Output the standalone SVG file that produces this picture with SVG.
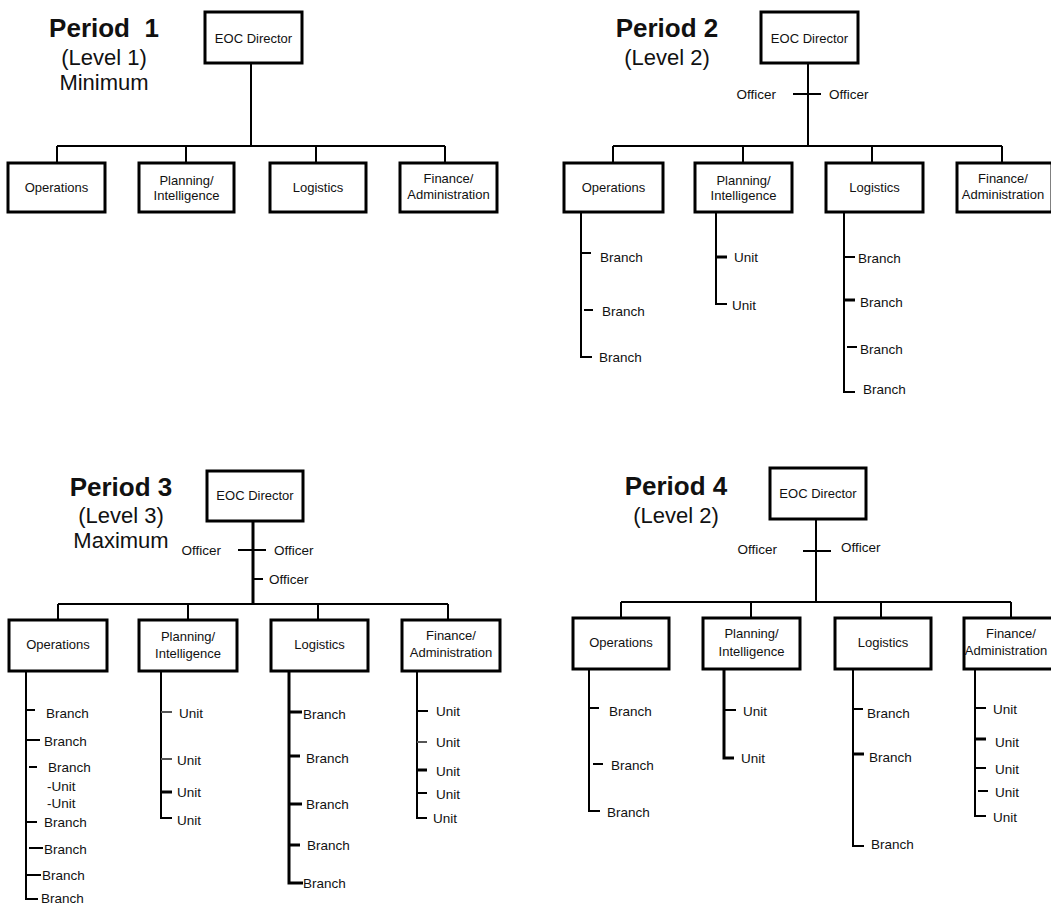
<svg xmlns="http://www.w3.org/2000/svg" width="1051" height="905" viewBox="0 0 1051 905">
<style>
.box{fill:#fff;stroke:#000;stroke-width:3}
.ln{stroke:#000;stroke-width:2;fill:none}
.thk{stroke-width:3}
.gr{stroke:#555}
text{font-family:"Liberation Sans",Arial,sans-serif;fill:#111}
.bt{font-size:13px;text-anchor:middle}
.lb{font-size:13.5px}
.le{font-size:13.5px;text-anchor:end}
.tt{font-size:26px;font-weight:bold;text-anchor:middle}
.st{font-size:22px;text-anchor:middle}
</style>
<rect width="1051" height="905" fill="#fff"/>

<g id="titles">
<text class="tt" x="104" y="37" xml:space="preserve">Period  1</text>
<text class="st" x="104" y="65">(Level 1)</text>
<text class="st" x="104" y="90">Minimum</text>
<text class="tt" x="667" y="37">Period 2</text>
<text class="st" x="667" y="65">(Level 2)</text>
<text class="tt" x="121" y="496">Period 3</text>
<text class="st" x="121" y="523">(Level 3)</text>
<text class="st" x="121" y="548">Maximum</text>
<text class="tt" x="676" y="495">Period 4</text>
<text class="st" x="676" y="523">(Level 2)</text>
</g>

<g id="connectors">
<!-- Period 1 -->
<path class="ln" d="M251 63V146M57 146H445M57 146V163M186 146V163M316 146V163M445 146V163"/>
<!-- Period 2 -->
<path class="ln" d="M808 63V146M793 94H821M613 146H1002M613 146V163M743 146V163M872 146V163M1002 146V163"/>
<path class="ln" d="M581 212V357H592M581 253H591M584 310H593"/>
<path class="ln" d="M716 212V304H727"/>
<path class="ln thk" d="M716 257H727"/>
<path class="ln" d="M844 212V392H855M844 257H855M847 347H857"/>
<path class="ln thk" d="M844 300H855"/>
<!-- Period 3 -->
<path class="ln thk" d="M253 521V604"/>
<path class="ln" d="M238 550H266M253 579H263M58 604H448M58 604V620M188 604V620M318 604V620M448 604V620"/>
<path class="ln" d="M26 671V899H38M26 710H35M26 740H40M29 767H37M26 822H37M29 848H43M26 875H41"/>
<path class="ln" d="M161 671V818H172"/>
<path class="ln gr" d="M161 712H172M161 759H172"/>
<path class="ln thk" d="M161 792H172"/>
<path class="ln thk" d="M289 668V883H303M289 712H302M289 756H300M289 804H302M289 845H300"/>
<path class="ln" d="M417 665V818H427M417 711H428M417 793H427"/>
<path class="ln gr" d="M417 742H427"/>
<path class="ln thk" d="M417 770H427"/>
<!-- Period 4 -->
<path class="ln" d="M816 519V602M803 551H831M621 602H1011M621 602V618M751 602V618M881 602V618M1011 602V618"/>
<path class="ln" d="M589 669V811H600M589 708H599M593 764H603"/>
<path class="ln thk" d="M724 669V758H734"/>
<path class="ln" d="M724 710H736"/>
<path class="ln" d="M853 669V846H864M853 709H863"/>
<path class="ln thk" d="M853 754H864"/>
<path class="ln" d="M975 665V816H986M975 708H986M975 768H986M978 791H988"/>
<path class="ln thk" d="M975 739H986"/>
</g>

<!-- Period 1 nodes -->
<g id="p1-director"><rect class="box" x="205" y="12" width="97" height="51"/><text class="bt" x="253.5" y="43">EOC Director</text></g>
<g id="p1-operations"><rect class="box" x="8" y="163" width="97" height="49"/><text class="bt" x="56.5" y="192">Operations</text></g>
<g id="p1-planning"><rect class="box" x="139" y="163" width="95" height="49"/><text class="bt" x="186.5" y="184.5">Planning/</text><text class="bt" x="186.5" y="200">Intelligence</text></g>
<g id="p1-logistics"><rect class="box" x="270" y="163" width="96" height="49"/><text class="bt" x="318" y="192">Logistics</text></g>
<g id="p1-finance"><rect class="box" x="400" y="163" width="97" height="49"/><text class="bt" x="448.5" y="183">Finance/</text><text class="bt" x="448.5" y="199">Administration</text></g>

<!-- Period 2 nodes -->
<g id="p2-director"><rect class="box" x="761" y="12" width="97" height="51"/><text class="bt" x="809.5" y="43">EOC Director</text></g>
<g id="p2-officer-l"><text class="le" x="776" y="99">Officer</text></g>
<g id="p2-officer-r"><text class="lb" x="829" y="99">Officer</text></g>
<g id="p2-operations"><rect class="box" x="564" y="163" width="99" height="49"/><text class="bt" x="613.5" y="192">Operations</text></g>
<g id="p2-planning"><rect class="box" x="695" y="163" width="97" height="49"/><text class="bt" x="743.5" y="184.5">Planning/</text><text class="bt" x="743.5" y="200">Intelligence</text></g>
<g id="p2-logistics"><rect class="box" x="826" y="163" width="97" height="49"/><text class="bt" x="874.5" y="192">Logistics</text></g>
<g id="p2-finance"><rect class="box" x="957" y="163" width="95" height="49"/><text class="bt" x="1003" y="183">Finance/</text><text class="bt" x="1003" y="199">Administration</text></g>
<g id="p2-ops-b1"><text class="lb" x="600" y="262">Branch</text></g>
<g id="p2-ops-b2"><text class="lb" x="602" y="316">Branch</text></g>
<g id="p2-ops-b3"><text class="lb" x="599" y="362">Branch</text></g>
<g id="p2-plan-u1"><text class="lb" x="734" y="262">Unit</text></g>
<g id="p2-plan-u2"><text class="lb" x="732" y="310">Unit</text></g>
<g id="p2-log-b1"><text class="lb" x="858" y="263">Branch</text></g>
<g id="p2-log-b2"><text class="lb" x="860" y="307">Branch</text></g>
<g id="p2-log-b3"><text class="lb" x="860" y="354">Branch</text></g>
<g id="p2-log-b4"><text class="lb" x="863" y="394">Branch</text></g>

<!-- Period 3 nodes -->
<g id="p3-director"><rect class="box" x="207" y="471" width="96" height="50"/><text class="bt" x="255" y="500">EOC Director</text></g>
<g id="p3-officer-l"><text class="le" x="221" y="555">Officer</text></g>
<g id="p3-officer-r"><text class="lb" x="274" y="555">Officer</text></g>
<g id="p3-officer-b"><text class="lb" x="269" y="584">Officer</text></g>
<g id="p3-operations"><rect class="box" x="9" y="620" width="98" height="51"/><text class="bt" x="58" y="649">Operations</text></g>
<g id="p3-planning"><rect class="box" x="139" y="620" width="98" height="51"/><text class="bt" x="188" y="641">Planning/</text><text class="bt" x="188" y="658">Intelligence</text></g>
<g id="p3-logistics"><rect class="box" x="271" y="620" width="97" height="51"/><text class="bt" x="319.5" y="649">Logistics</text></g>
<g id="p3-finance"><rect class="box" x="402" y="620" width="98" height="51"/><text class="bt" x="451" y="640">Finance/</text><text class="bt" x="451" y="657">Administration</text></g>
<g id="p3-ops-b1"><text class="lb" x="46" y="718">Branch</text></g>
<g id="p3-ops-b2"><text class="lb" x="44" y="746">Branch</text></g>
<g id="p3-ops-b3"><text class="lb" x="48" y="772">Branch</text></g>
<g id="p3-ops-u1"><text class="lb" x="47" y="791">-Unit</text></g>
<g id="p3-ops-u2"><text class="lb" x="47" y="808">-Unit</text></g>
<g id="p3-ops-b4"><text class="lb" x="44" y="827">Branch</text></g>
<g id="p3-ops-b5"><text class="lb" x="44" y="854">Branch</text></g>
<g id="p3-ops-b6"><text class="lb" x="42" y="880">Branch</text></g>
<g id="p3-ops-b7"><text class="lb" x="41" y="903">Branch</text></g>
<g id="p3-plan-u1"><text class="lb" x="179" y="718">Unit</text></g>
<g id="p3-plan-u2"><text class="lb" x="177" y="765">Unit</text></g>
<g id="p3-plan-u3"><text class="lb" x="177" y="797">Unit</text></g>
<g id="p3-plan-u4"><text class="lb" x="177" y="825">Unit</text></g>
<g id="p3-log-b1"><text class="lb" x="303" y="719">Branch</text></g>
<g id="p3-log-b2"><text class="lb" x="306" y="763">Branch</text></g>
<g id="p3-log-b3"><text class="lb" x="306" y="809">Branch</text></g>
<g id="p3-log-b4"><text class="lb" x="307" y="850">Branch</text></g>
<g id="p3-log-b5"><text class="lb" x="303" y="888">Branch</text></g>
<g id="p3-fin-u1"><text class="lb" x="436" y="716">Unit</text></g>
<g id="p3-fin-u2"><text class="lb" x="436" y="747">Unit</text></g>
<g id="p3-fin-u3"><text class="lb" x="436" y="776">Unit</text></g>
<g id="p3-fin-u4"><text class="lb" x="436" y="799">Unit</text></g>
<g id="p3-fin-u5"><text class="lb" x="433" y="823">Unit</text></g>

<!-- Period 4 nodes -->
<g id="p4-director"><rect class="box" x="770" y="468" width="96" height="51"/><text class="bt" x="818" y="498">EOC Director</text></g>
<g id="p4-officer-l"><text class="le" x="777" y="554">Officer</text></g>
<g id="p4-officer-r"><text class="lb" x="841" y="552">Officer</text></g>
<g id="p4-operations"><rect class="box" x="573" y="618" width="96" height="51"/><text class="bt" x="621" y="647">Operations</text></g>
<g id="p4-planning"><rect class="box" x="703" y="618" width="97" height="51"/><text class="bt" x="751.5" y="638">Planning/</text><text class="bt" x="751.5" y="656">Intelligence</text></g>
<g id="p4-logistics"><rect class="box" x="835" y="618" width="96" height="51"/><text class="bt" x="883" y="647">Logistics</text></g>
<g id="p4-finance"><rect class="box" x="964" y="618" width="96" height="51"/><text class="bt" x="1011" y="638">Finance/</text><text class="bt" x="1006" y="655">Administration</text></g>
<g id="p4-ops-b1"><text class="lb" x="609" y="716">Branch</text></g>
<g id="p4-ops-b2"><text class="lb" x="611" y="770">Branch</text></g>
<g id="p4-ops-b3"><text class="lb" x="607" y="817">Branch</text></g>
<g id="p4-plan-u1"><text class="lb" x="743" y="716">Unit</text></g>
<g id="p4-plan-u2"><text class="lb" x="741" y="763">Unit</text></g>
<g id="p4-log-b1"><text class="lb" x="867" y="718">Branch</text></g>
<g id="p4-log-b2"><text class="lb" x="869" y="762">Branch</text></g>
<g id="p4-log-b3"><text class="lb" x="871" y="849">Branch</text></g>
<g id="p4-fin-u1"><text class="lb" x="993" y="714">Unit</text></g>
<g id="p4-fin-u2"><text class="lb" x="995" y="747">Unit</text></g>
<g id="p4-fin-u3"><text class="lb" x="995" y="774">Unit</text></g>
<g id="p4-fin-u4"><text class="lb" x="995" y="797">Unit</text></g>
<g id="p4-fin-u5"><text class="lb" x="993" y="822">Unit</text></g>
</svg>
